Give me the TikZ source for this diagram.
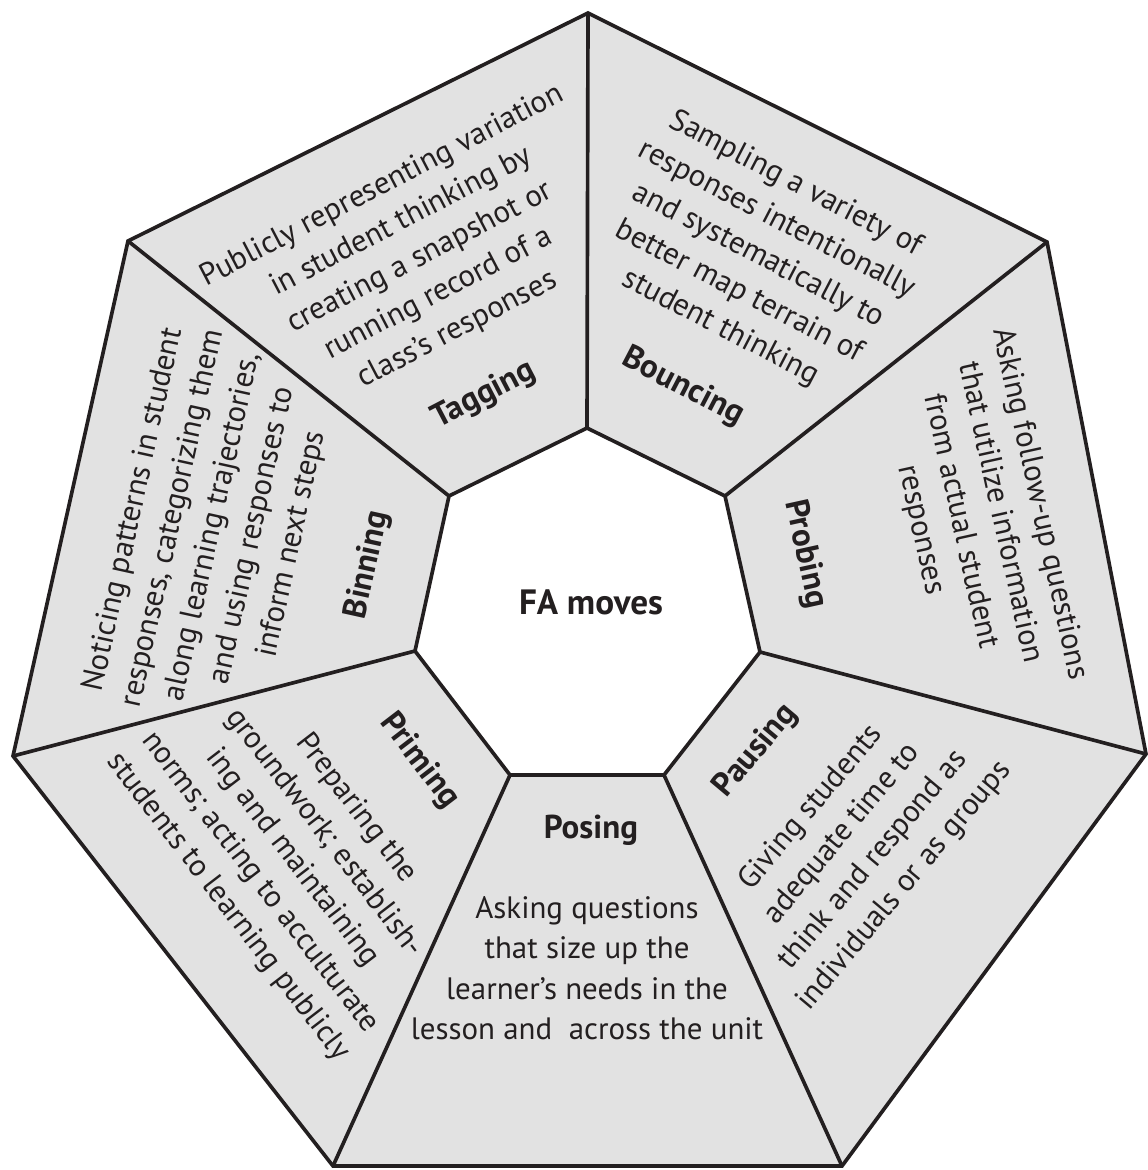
\documentclass[tikz,border=0pt]{standalone}
\usepackage{fontspec}
\setmainfont{PT Sans}
\usepackage{xcolor}
\definecolor{segfill}{RGB}{226,226,226}
\definecolor{ink}{RGB}{35,31,32}
\tikzset{
  movelabel/.style={font=\fontsize{23.5}{28}\selectfont\bfseries, text=ink, inner sep=0pt},
  movedesc/.style={font=\fontsize{22}{28.8}\selectfont, text=ink, align=center, inner sep=0pt},
  edge/.style={line width=2.6pt, draw=ink, line join=miter}
}
\begin{document}
\begin{tikzpicture}[x=0.025cm, y=-0.025cm]
    \useasboundingbox (0,0) rectangle (1147,1170);

    %outer corners
    \coordinate (o1) at (588,13);
    \coordinate (o2) at (1047,242);
    \coordinate (o3) at (1146,754);
    \coordinate (o4) at (842,1166);
    \coordinate (o5) at (333,1166);
    \coordinate (o6) at (13,756);
    \coordinate (o7) at (128,241);

    %inner corners
    \coordinate (i1) at (587,428);
    \coordinate (i2) at (725,496);
    \coordinate (i3) at (760,652);
    \coordinate (i4) at (664,775);
    \coordinate (i5) at (510,775);
    \coordinate (i6) at (415,651);
    \coordinate (i7) at (449,496);

    %segments
    \draw[edge, fill=segfill] (o1) -- (o2) -- (o3) -- (o4) -- (o5) -- (o6) -- (o7) -- cycle;
    \draw[edge, fill=white] (i1) -- (i2) -- (i3) -- (i4) -- (i5) -- (i6) -- (i7) -- cycle;
    \foreach \k in {1,...,7}
        \draw[edge] (i\k) -- (o\k);

    %centre
    \node[movelabel, font=\fontsize{25}{30}\selectfont\bfseries] (fa) at (591,602) {FA moves};

    %move names
    \node[movelabel, rotate=27.5] (tagging) at (484,395) {Tagging};
    \node[movelabel, rotate=-27.5] (bouncing) at (683,387) {Bouncing};
    \node[movelabel, rotate=-77.6] (probing) at (805,554) {Probing};
    \node[movelabel, rotate=50] (pausing) at (756,751) {Pausing};
    \node[movelabel] (posing) at (591,830) {Posing};
    \node[movelabel, rotate=-52.5] (priming) at (419,761) {Priming};
    \node[movelabel, rotate=77.6] (binning) at (368,565) {Binning};

    %descriptions
    \node[movedesc, rotate=27.5] (tagtext) at (420,258)
        {Publicly representing variation\\in student thinking by\\creating a snapshot or\\running record of a\\class’s responses};
    \node[movedesc, rotate=-27.5] (bouncetext) at (758,256)
        {Sampling a variety of\\responses intentionally\\and systematically to\\better map terrain of\\student thinking};
    \node[movedesc, rotate=-77.6] (probetext) at (980,517)
        {Asking follow-up questions\\that utilize information\\from actual student\\responses};
    \node[movedesc, rotate=50] (pausetext) at (858,847)
        {Giving students\\adequate time to\\think and respond as\\individuals or as groups};
    \node[movedesc] (posetext) at (587,968)
        {Asking questions\\that size up the\\learner’s needs in the\\lesson and \ across the unit};
    \node[movedesc, rotate=-52.5] (primetext) at (292,858)
        {Preparing the\\groundwork; establish-\\ing and maintaining\\norms; acting to acculturate\\students to learning publicly};
    \node[movedesc, rotate=77.6] (bintext) at (213,527)
        {Noticing patterns in student\\responses, categorizing them\\along learning trajectories,\\and using responses to\\inform next steps};

\end{tikzpicture}
\end{document}
